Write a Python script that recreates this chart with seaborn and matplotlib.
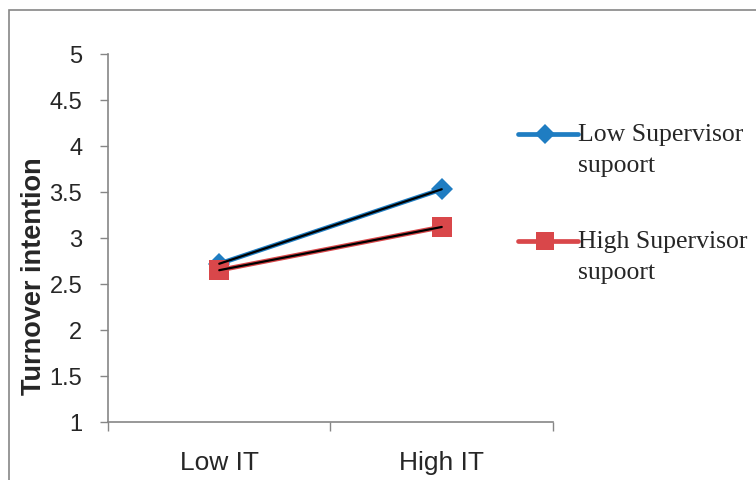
import matplotlib
matplotlib.use("Agg")
import matplotlib.pyplot as plt
import seaborn as sns
import pandas as pd
from matplotlib.patches import Rectangle
from matplotlib.lines import Line2D

categories = ["Low IT", "High IT"]
series_first = ["Low Supervisor", "High Supervisor"]
series_second = ["supoort", "supoort"]
low_support = [2.72, 3.53]
high_support = [2.65, 3.12]
y_ticks = [1, 1.5, 2, 2.5, 3, 3.5, 4, 4.5, 5]
y_tick_labels = ["1", "1.5", "2", "2.5", "3", "3.5", "4", "4.5", "5"]

series_names = [a + " " + b for a, b in zip(series_first, series_second)]
df = pd.DataFrame({
    "x": [0, 1, 0, 1],
    "y": low_support + high_support,
    "series": [series_names[0]] * 2 + [series_names[1]] * 2,
})

sns.set_style("white")
plt.rcParams["font.family"] = ["Liberation Sans", "DejaVu Sans"]

W, H = 756, 481
fig = plt.figure(figsize=(7.56, 4.81), dpi=100)
ax = fig.add_axes([108 / W, 1 - 423 / H, (553 - 108) / W, (423 - 55) / H])

blue = "#1F7DC2"
red = "#D9474A"
sns.lineplot(data=df, x="x", y="y", hue="series", style="series",
             palette=[blue, red], markers=["D", "s"], dashes=False,
             linewidth=3.4, markersize=10, markeredgewidth=0, ax=ax, legend=False)
lines = ax.get_lines()
lines[0].set_markersize(11)
lines[1].set_markersize(14.5)
# thin black trend lines
for vals in (low_support, high_support):
    ax.plot([0, 1], vals, color="black", linewidth=1.6, zorder=5)

ax.set_xlim(-0.5, 1.5)
ax.set_ylim(1, 5)
ax.set_yticks(y_ticks)
ax.set_yticklabels(y_tick_labels, fontsize=17)
ax.set_xticks([-0.5, 0.5, 1.5])
ax.set_xticklabels(["", "", ""])
ax.set_xticks([0, 1], minor=True)
ax.set_xticklabels(categories, minor=True, fontsize=19)
ax.tick_params(axis="x", which="major", length=6.5, width=1, color="#868686", direction="out", bottom=True)
ax.tick_params(axis="x", which="minor", length=0, pad=20)
ax.tick_params(axis="y", length=6, width=1, color="#868686", direction="out", left=True, pad=12.5)
for s in ["top", "right"]:
    ax.spines[s].set_visible(False)
for s in ["left", "bottom"]:
    ax.spines[s].set_color("#868686")
    ax.spines[s].set_linewidth(1.2)
ax.set_xlabel("")
ax.set_ylabel("")

fig.text(34 / W, 1 - 276 / H, "Turnover intention", rotation=90, fontsize=19.5,
         fontweight="bold", ha="center", va="center")

# custom legend (two-line labels with handle aligned to first line)
leg_y = [135, 242]
markers = ["D", "s"]
msizes = [10, 12.5]
colors = [blue, red]
for yy, m, ms, c, t1, t2 in zip(leg_y, markers, msizes, colors, series_first, series_second):
    fig.add_artist(Line2D([518 / W, 578 / W], [1 - yy / H] * 2, transform=fig.transFigure,
                          color=c, linewidth=3.4, solid_capstyle="round"))
    fig.add_artist(Line2D([545 / W], [1 - yy / H], transform=fig.transFigure,
                          color=c, marker=m, markersize=ms, markeredgewidth=0, linestyle="none"))
    fig.text(578 / W, 1 - yy / H, t1, family="Liberation Serif", fontsize=18.5, va="center", ha="left")
    fig.text(578 / W, 1 - (yy + 31) / H, t2, family="Liberation Serif", fontsize=18.5, va="center", ha="left")

fig.add_artist(Rectangle((9 / W, -0.1), 2, 1.1 - 11 / H, transform=fig.transFigure,
                         fill=False, edgecolor="#868686", linewidth=1.2))

fig.savefig("out.png", dpi=100)
